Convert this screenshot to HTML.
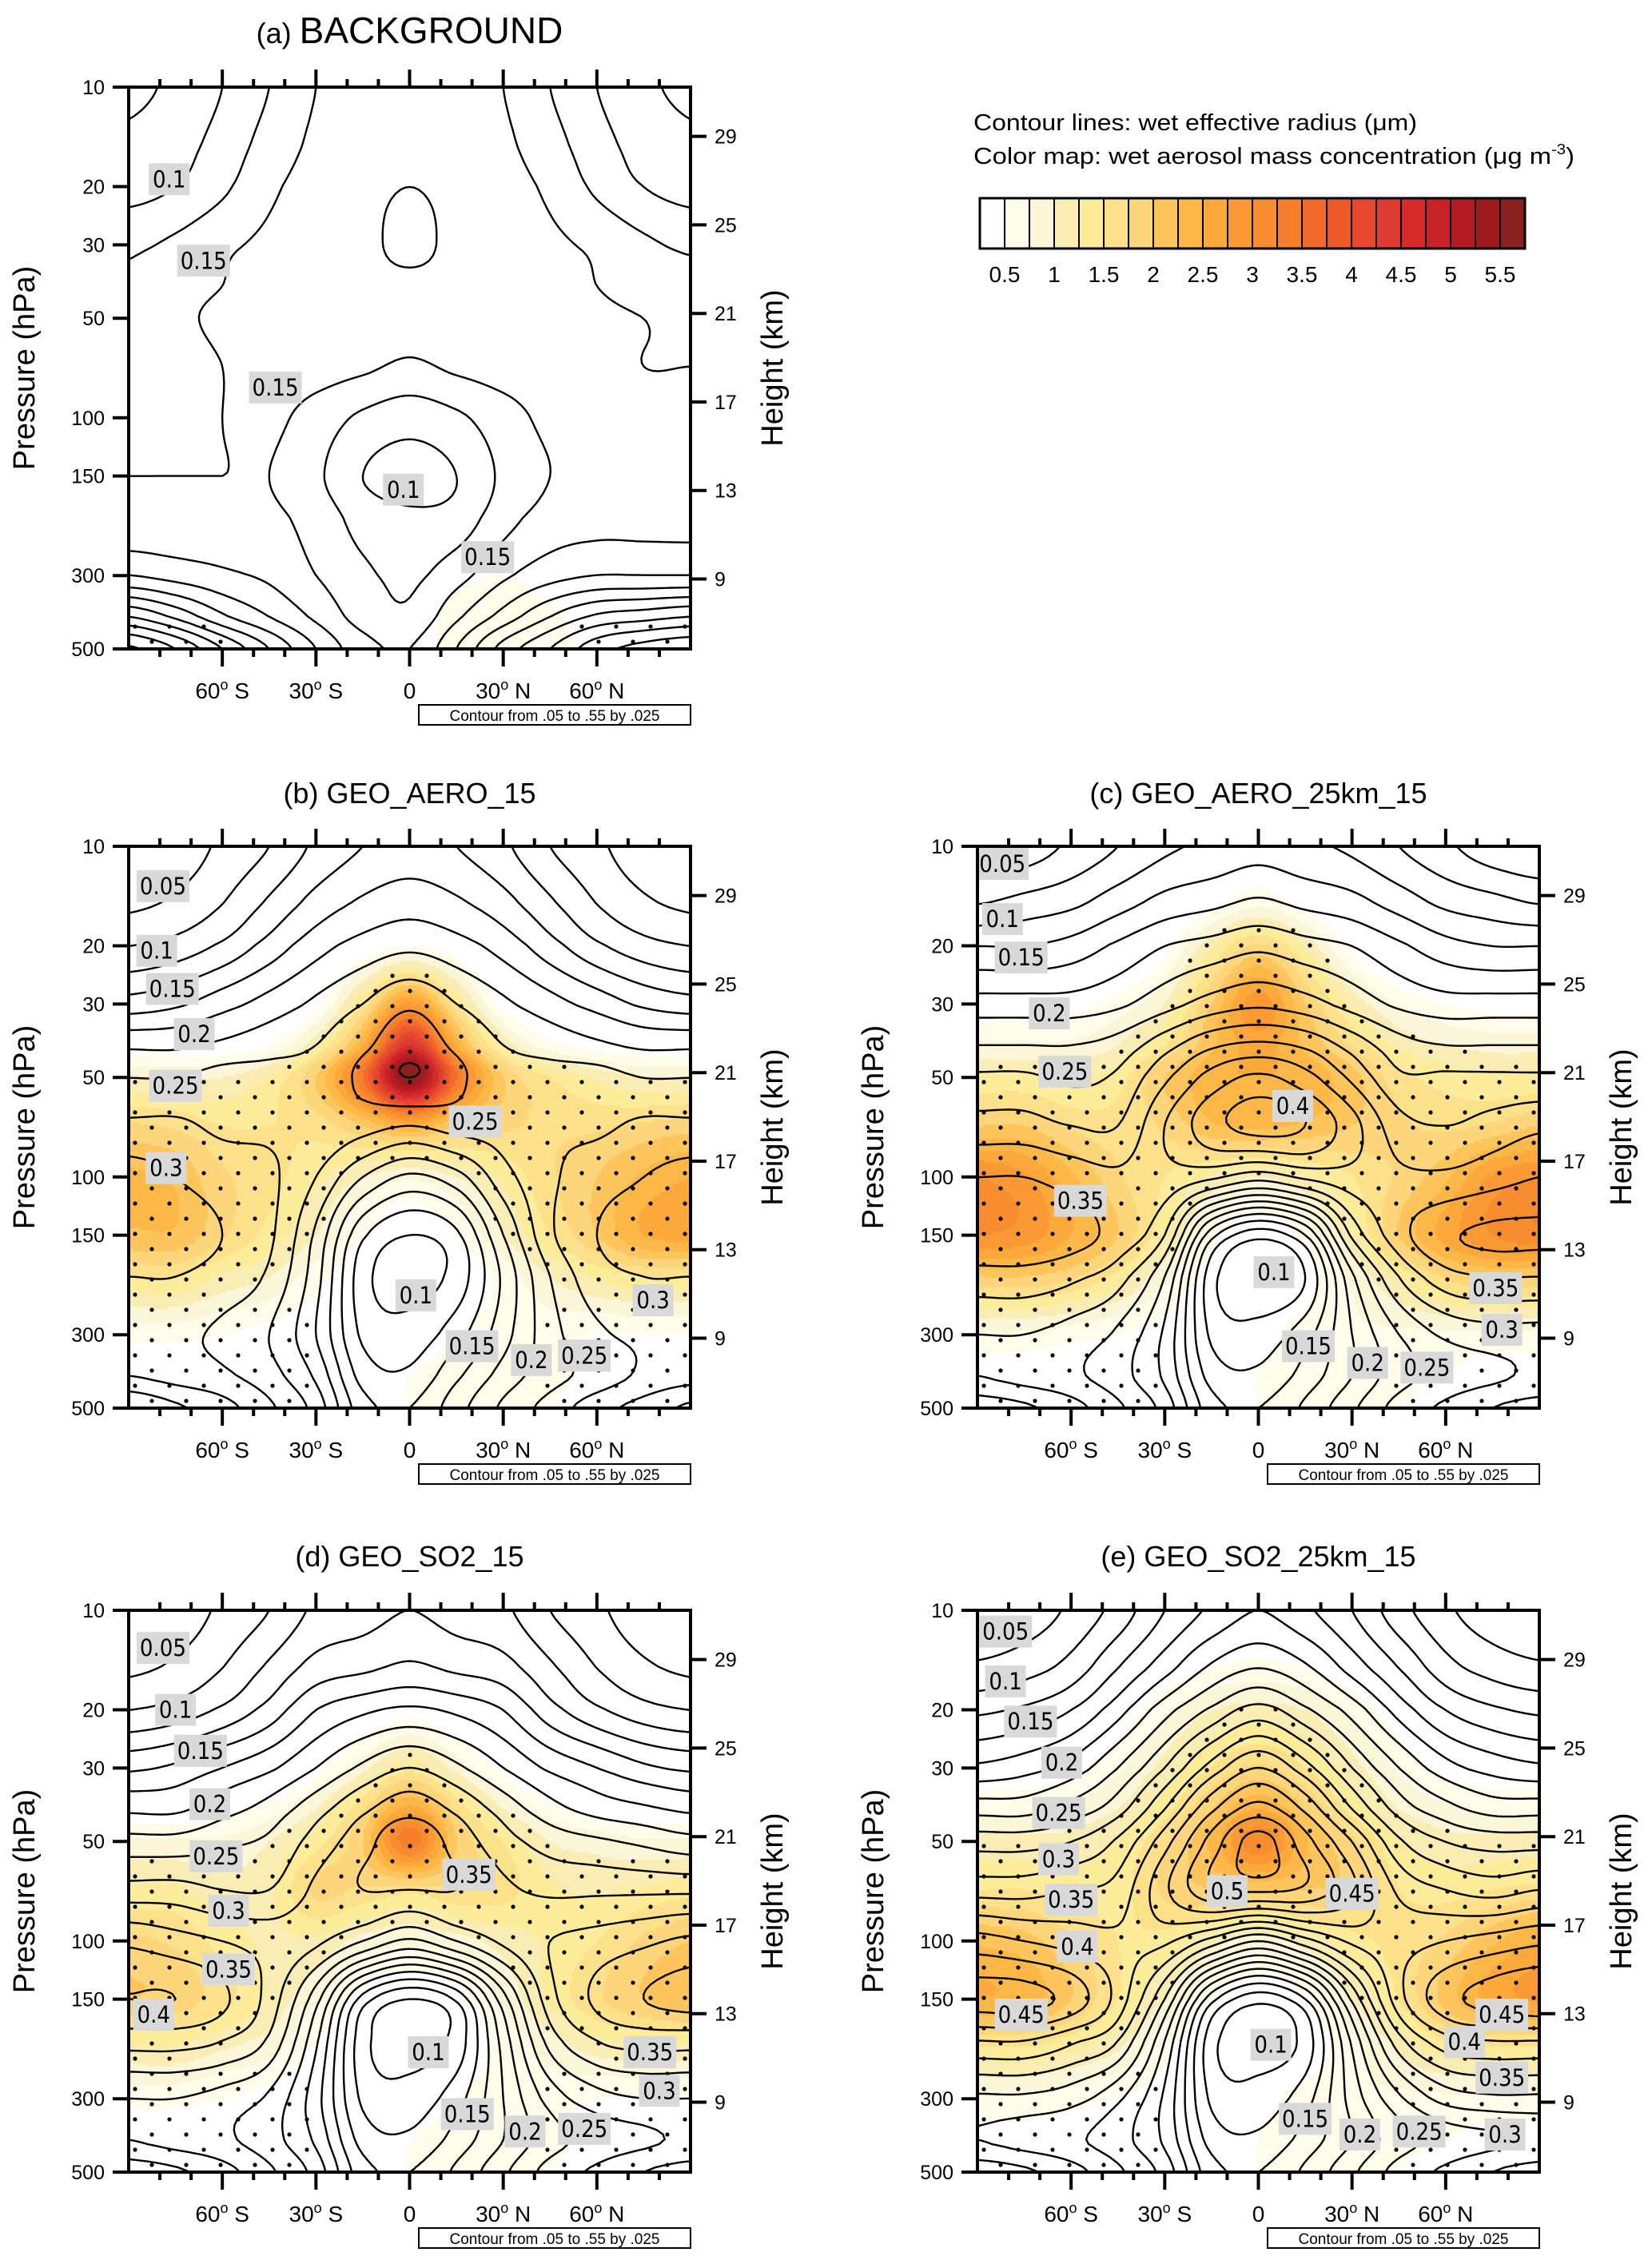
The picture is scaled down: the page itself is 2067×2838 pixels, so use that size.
<!DOCTYPE html>
<html><head><meta charset="utf-8">
<style>
html,body{margin:0;padding:0;background:#fff;}
#wrap{position:relative;width:2067px;height:2838px;overflow:hidden;}
#fill{position:absolute;left:0;top:0;}
#svg{position:absolute;left:0;top:0;}
text{font-family:"Liberation Sans",sans-serif;}
</style></head>
<body>
<div id="wrap">
<canvas id="fill" width="2067" height="2838"></canvas>
<svg id="svg" width="2067" height="2838" xmlns="http://www.w3.org/2000/svg">
<g>
<text x="1218" y="163" font-size="29" textLength="555" lengthAdjust="spacingAndGlyphs">Contour lines: wet effective radius  (μm)</text>
<text x="1218" y="205" font-size="29" textLength="752" lengthAdjust="spacingAndGlyphs">Color map: wet aerosol mass concentration (μg m<tspan dy="-12" font-size="18">-3</tspan><tspan dy="12">)</tspan></text>
</g>
<g id="cbar"></g>
<g id="panels"></g>
</svg>
</div>
<script>
// ===== data =====
const PLEV=[10,15,20,30,40,50,70,100,150,200,300,400,500];
const LATS=[-90,-75,-60,-45,-30,-15,0,15,30,45,60,75,90];
const CONTOUR_LEVELS=[0.05,0.075,0.1,0.125,0.15,0.175,0.2,0.225,0.25,0.275,0.3,0.325,0.35,0.375,0.4,0.425,0.45,0.475,0.5,0.525,0.55];
const COLOR_BOUNDS=[0.5,0.75,1,1.25,1.5,1.75,2,2.25,2.5,2.75,3,3.25,3.5,3.75,4,4.25,4.5,4.75,5,5.25,5.5];
const COLORS=["#ffffff","#fffcea","#fbf6d8","#f9edb4","#fdec9a","#fde08a","#fdd57a","#fdc55c","#fdb746","#fca83a","#fb9a35","#f88d30","#f57f2d","#f26b2a","#ec5a2b","#e6492e","#de3c32","#d52b2b","#c62228","#b31c22","#9f1a1e","#8a2222"];
const CBAR_LABELS=["0.5","1","1.5","2","2.5","3","3.5","4","4.5","5","5.5"];
const P_TICKS=[10,20,30,50,100,150,300,500];
const H_TICKS=[29,25,21,17,13,9];
const LAT_TICKS=[-60,-30,0,30,60];
const LAT_TICK_LABELS=["60|S","30|S","0","30|N","60|N"];

const radA=[
[.07,.08,.10,.125,.15,.16,.165,.16,.15,.125,.10,.08,.07],
[.08,.09,.11,.135,.155,.165,.17,.165,.155,.135,.11,.09,.08],
[.09,.10,.12,.145,.16,.17,.175,.17,.16,.145,.12,.10,.09],
[.12,.13,.145,.155,.165,.17,.18,.17,.165,.155,.145,.13,.12],
[.13,.14,.15,.16,.165,.17,.17,.17,.165,.16,.15,.14,.135],
[.14,.145,.155,.16,.165,.17,.165,.17,.165,.16,.155,.15,.145],
[.145,.14,.15,.16,.16,.155,.145,.155,.16,.16,.155,.15,.15],
[.145,.14,.15,.155,.14,.12,.11,.12,.14,.155,.155,.155,.155],
[.15,.15,.15,.15,.13,.10,.09,.10,.13,.15,.155,.155,.155],
[.155,.155,.155,.155,.14,.115,.105,.11,.14,.16,.165,.165,.165],
[.20,.19,.18,.17,.15,.13,.12,.14,.17,.19,.20,.20,.20],
[.30,.27,.23,.20,.17,.14,.13,.17,.21,.25,.28,.29,.30],
[.38,.35,.30,.25,.20,.16,.15,.20,.26,.30,.34,.36,.37]];
const massA=[
[0,0,0,0,0,0,0,0,0,0,0,0,0],[0,0,0,0,0,0,0,0,0,0,0,0,0],[0,0,0,0,0,0,0,0,0,0,0,0,0],
[0,0,0,0,0,0,0,0,0,0,0,0,0],[0,0,0,0,0,0,0,0,0,0,0,0,0],[0,0,0,0,0,0,0,0,0,0,0,0,0],
[0,0,0,0,0,0,0,0,0,0,0,0,0],[0,0,0,0,0,0,0,0,0,0,0,0,0],[0,0,0,0,0,0,0,0,0,0,0,0,0],
[0,0,0,0,0,0,0,0,0,0,0,0,0],[0,0,0,0,0,0,0.2,0.4,0.5,0.3,0,0,0],
[0,0,0,0,0,0,0.3,0.6,0.65,0.55,0.3,0,0],[0,0,0,0,0,0,0.3,0.6,0.7,0.6,0.4,0,0]];

const radB=[
[.05,.06,.08,.10,.13,.15,.16,.15,.13,.10,.08,.06,.05],
[.07,.08,.10,.13,.16,.18,.19,.18,.16,.13,.10,.08,.07],
[.10,.11,.13,.16,.19,.21,.22,.21,.19,.16,.13,.11,.10],
[.16,.17,.19,.21,.23,.25,.27,.25,.23,.21,.19,.17,.16],
[.22,.22,.23,.24,.25,.27,.29,.27,.25,.24,.23,.22,.22],
[.25,.25,.26,.26,.26,.28,.30,.28,.26,.26,.26,.25,.25],
[.28,.28,.27,.27,.27,.26,.25,.26,.26,.27,.27,.28,.28],
[.31,.30,.29,.28,.25,.20,.17,.19,.24,.27,.29,.30,.31],
[.31,.31,.30,.28,.22,.13,.10,.12,.20,.27,.30,.31,.32],
[.30,.30,.29,.27,.21,.11,.09,.11,.18,.25,.29,.30,.30],
[.28,.28,.27,.25,.20,.12,.11,.14,.19,.24,.27,.28,.28],
[.30,.29,.28,.26,.22,.14,.13,.17,.21,.24,.26,.28,.29],
[.35,.33,.31,.28,.24,.16,.15,.19,.23,.26,.29,.31,.33]];
const massB=[
[0,0,0,0,0,0,0,0,0,0,0,0,0],
[0,0,0,0,0,0,0.1,0,0,0,0,0,0],
[0,0,0,0,0,0.3,0.5,0.3,0,0,0,0,0],
[0,0,0,0,0.4,1.5,2.8,1.5,0.4,0,0,0,0],
[0.3,0.3,0.3,0.5,1.2,2.5,4.5,2.5,1.2,0.6,0.4,0.3,0.3],
[1,1,1,1.3,2,3.5,5.6,3.5,2,1.5,1.2,1,1],
[1.8,1.7,1.5,1.5,1.6,2,2.5,2,1.8,1.7,1.7,1.8,1.9],
[2.3,2.2,1.8,1.6,1.3,1,0.8,1,1.3,1.7,2,2.3,2.5],
[2.2,2.2,1.8,1.4,1,0.5,0.3,0.5,1,1.5,2,2.5,2.6],
[1.5,1.5,1.2,1,0.6,0.3,0.2,0.3,0.6,1,1.3,1.5,1.5],
[0.6,0.6,0.5,0.4,0.3,0.2,0.3,0.5,0.6,0.6,0.5,0.5,0.5],
[0.3,0.3,0.3,0.3,0.3,0.3,0.5,0.6,0.7,0.6,0.4,0.3,0.3],
[0.2,0.2,0.2,0.2,0.3,0.3,0.5,0.6,0.7,0.5,0.3,0.2,0.2]];

const radC=[
[.05,.06,.08,.10,.12,.13,.14,.13,.12,.10,.08,.06,.05],
[.10,.11,.12,.14,.16,.17,.18,.17,.16,.14,.12,.11,.10],
[.15,.15,.16,.18,.20,.21,.22,.21,.20,.18,.16,.15,.15],
[.21,.21,.21,.22,.24,.26,.27,.26,.24,.22,.21,.21,.21],
[.25,.25,.25,.26,.29,.32,.33,.32,.29,.26,.25,.25,.25],
[.28,.28,.27,.28,.32,.36,.38,.36,.32,.28,.28,.28,.28],
[.31,.31,.30,.30,.35,.39,.41,.40,.36,.31,.30,.31,.32],
[.35,.35,.34,.33,.34,.33,.31,.33,.34,.33,.33,.34,.35],
[.37,.37,.36,.34,.30,.16,.11,.15,.28,.34,.37,.38,.38],
[.34,.34,.33,.31,.25,.11,.08,.10,.22,.30,.34,.35,.35],
[.30,.30,.29,.27,.22,.12,.11,.14,.20,.25,.28,.29,.29],
[.30,.29,.28,.26,.22,.14,.13,.16,.20,.24,.26,.27,.28],
[.34,.33,.31,.28,.24,.16,.15,.18,.22,.26,.28,.30,.31]];
const massC=[
[0,0,0,0,0,0,0.2,0,0,0,0,0,0],
[0,0,0,0,0,0.4,0.7,0.4,0,0,0,0,0],
[0,0,0,0,0.4,1.2,1.8,1.2,0.4,0,0,0,0],
[0.3,0.3,0.4,0.6,1,2,2.9,2,1.2,0.7,0.5,0.4,0.4],
[0.8,0.8,0.8,1,1.5,2.2,2.6,2.2,1.7,1.2,1,0.9,0.9],
[1.3,1.3,1.2,1.4,2,2.4,2.5,2.4,2.1,1.6,1.4,1.3,1.3],
[2,2,1.7,1.6,1.8,2.2,2.3,2.2,2,1.8,1.7,1.8,2],
[3,2.8,2.3,1.8,1.5,1.2,1,1.2,1.5,1.8,2.2,2.8,3],
[3,2.9,2.5,2,1.3,0.6,0.3,0.6,1.2,2,2.6,3,3.2],
[2,2,1.8,1.4,0.8,0.4,0.3,0.4,0.8,1.3,1.8,2,2],
[0.7,0.7,0.6,0.5,0.4,0.3,0.4,0.6,0.7,0.7,0.7,0.7,0.7],
[0.4,0.4,0.4,0.4,0.3,0.3,0.5,0.6,0.6,0.6,0.5,0.4,0.4],
[0.2,0.2,0.2,0.2,0.3,0.3,0.5,0.6,0.6,0.5,0.3,0.2,0.2]];

const radD=[
[.05,.06,.08,.10,.13,.14,.15,.14,.13,.10,.08,.06,.05],
[.07,.08,.10,.13,.16,.17,.18,.17,.16,.13,.10,.08,.07],
[.10,.11,.13,.16,.20,.22,.23,.22,.20,.16,.13,.11,.10],
[.17,.18,.20,.22,.25,.28,.30,.28,.25,.22,.20,.18,.17],
[.22,.22,.24,.26,.29,.32,.34,.32,.29,.26,.24,.23,.22],
[.26,.26,.27,.28,.31,.34,.37,.34,.31,.29,.28,.27,.26],
[.31,.31,.30,.30,.33,.35,.35,.35,.33,.32,.32,.32,.32],
[.37,.36,.35,.34,.33,.30,.27,.30,.33,.35,.36,.37,.38],
[.40,.40,.38,.34,.26,.14,.10,.13,.24,.34,.38,.40,.41],
[.36,.36,.35,.32,.23,.11,.09,.11,.21,.31,.35,.36,.36],
[.30,.30,.29,.27,.21,.12,.11,.14,.20,.26,.29,.30,.30],
[.30,.29,.28,.26,.22,.14,.13,.16,.20,.24,.26,.27,.28],
[.34,.33,.31,.28,.24,.16,.15,.18,.22,.26,.28,.30,.31]];
const massD=[
[0,0,0,0,0,0,0,0,0,0,0,0,0],
[0,0,0,0,0,0,0.1,0,0,0,0,0,0],
[0,0,0,0,0,0.2,0.4,0.2,0,0,0,0,0],
[0,0,0,0,0.4,0.9,1.4,0.9,0.4,0,0,0,0],
[0.3,0.3,0.4,0.6,1,1.7,2.6,1.7,1,0.6,0.4,0.3,0.3],
[0.8,0.8,0.8,1,1.4,2,3.4,2,1.5,1,0.9,0.8,0.8],
[1.3,1.3,1.1,1.2,1.8,1.7,1.6,1.7,1.6,1.3,1.2,1.3,1.4],
[1.8,1.7,1.4,1.2,1.2,0.9,0.8,0.9,1.1,1.3,1.5,1.8,2],
[2,1.9,1.6,1.2,0.8,0.4,0.3,0.4,0.8,1.3,1.7,2,2.2],
[1.3,1.3,1.1,0.9,0.5,0.3,0.2,0.3,0.6,0.9,1.2,1.3,1.3],
[0.6,0.6,0.5,0.4,0.3,0.2,0.3,0.5,0.6,0.6,0.5,0.5,0.5],
[0.3,0.3,0.3,0.3,0.3,0.3,0.5,0.6,0.6,0.6,0.4,0.3,0.3],
[0.2,0.2,0.2,0.2,0.3,0.3,0.5,0.6,0.6,0.5,0.3,0.2,0.2]];

const radE=[
[.05,.06,.08,.11,.15,.18,.20,.18,.15,.11,.08,.06,.05],
[.08,.09,.11,.15,.19,.23,.25,.23,.19,.15,.11,.09,.08],
[.12,.13,.15,.19,.24,.28,.31,.28,.24,.19,.15,.13,.12],
[.18,.19,.21,.25,.30,.36,.40,.36,.30,.25,.21,.19,.18],
[.24,.24,.26,.29,.35,.42,.46,.42,.35,.29,.26,.24,.24],
[.29,.29,.30,.33,.39,.46,.51,.46,.40,.33,.30,.29,.29],
[.34,.34,.35,.36,.42,.47,.48,.47,.43,.37,.35,.34,.35],
[.41,.40,.39,.38,.38,.34,.30,.34,.38,.39,.40,.41,.42],
[.46,.46,.44,.39,.30,.16,.11,.15,.28,.39,.44,.46,.47],
[.40,.40,.38,.35,.25,.11,.09,.11,.23,.34,.39,.40,.40],
[.32,.32,.31,.28,.22,.12,.11,.14,.21,.27,.31,.32,.32],
[.30,.29,.28,.26,.22,.14,.13,.16,.20,.24,.26,.27,.28],
[.34,.33,.31,.28,.24,.16,.15,.18,.22,.26,.28,.30,.31]];
const massE=[
[0,0,0,0,0,0,0.1,0,0,0,0,0,0],
[0,0,0,0,0.3,0.5,0.6,0.5,0.3,0,0,0,0],
[0,0,0,0.3,0.7,1,1.1,1,0.7,0.3,0,0,0],
[0.3,0.3,0.4,0.7,1.1,1.5,1.8,1.5,1.1,0.7,0.4,0.3,0.3],
[0.7,0.7,0.8,1,1.4,2,2.5,2,1.4,1,0.8,0.7,0.7],
[1.1,1.1,1.1,1.3,1.7,2.3,3.2,2.3,1.8,1.3,1.1,1.1,1.1],
[1.5,1.5,1.4,1.4,1.8,2,2,2,1.9,1.5,1.4,1.5,1.6],
[2.2,2.1,1.8,1.5,1.4,1.1,0.9,1.1,1.4,1.6,1.8,2.2,2.5],
[2.5,2.4,2,1.5,1,0.5,0.3,0.5,1,1.5,2.1,2.6,2.8],
[1.6,1.6,1.4,1.1,0.6,0.3,0.2,0.3,0.7,1.1,1.5,1.6,1.6],
[0.7,0.7,0.6,0.5,0.4,0.3,0.4,0.6,0.7,0.7,0.7,0.7,0.7],
[0.4,0.4,0.4,0.4,0.3,0.3,0.5,0.6,0.6,0.6,0.5,0.4,0.4],
[0.2,0.2,0.2,0.2,0.3,0.3,0.5,0.6,0.6,0.5,0.3,0.2,0.2]];

// contour labels: [text, lat, pressure]
const labA=[["0.1",-77,19],["0.15",-66,33.5],["0.15",-43,81],["0.1",-2,165],["0.15",25,264]];
const labB=[["0.05",-79,13.2],["0.1",-81,20.7],["0.15",-76,27],["0.2",-69,37],["0.25",-75,53],["0.3",-78,94],["0.25",21,68],["0.1",2,228],["0.15",20,325],["0.2",39,358],["0.25",56,347],["0.3",78,236]];
const labC=[["0.05",-82,11.3],["0.1",-82,16.6],["0.15",-76,21.7],["0.2",-67,32],["0.25",-62,48],["0.4",11,61],["0.35",-57,118],["0.1",5,194],["0.35",76,217],["0.3",78,290],["0.15",16,325],["0.2",35,365],["0.25",54,377]];
const labD=[["0.05",-79,13],["0.1",-75,20],["0.15",-67,26.6],["0.2",-64,38.6],["0.25",-62,55.5],["0.3",-58,81],["0.35",-58,122],["0.4",-82,167],["0.35",19,63],["0.1",6,217],["0.35",77,217],["0.3",80,284],["0.15",18.5,334],["0.2",37,377],["0.25",56,370]];
const labE=[["0.05",-81,11.6],["0.1",-81,16.4],["0.15",-73,21.7],["0.2",-63,28.9],["0.25",-64,41],["0.3",-64,56.6],["0.35",-60,75],["0.4",-58,104],["0.45",-76,167],["0.5",-10,70.7],["0.45",30,72],["0.45",78,167],["0.4",66,202],["0.1",4,206],["0.35",78,259],["0.15",15,345],["0.2",32.5,385],["0.25",51.5,377],["0.3",79,385]];

// ===== layout =====
const W=703,H=703;
const panels=[
 {id:"a",title:"BACKGROUND",x:161,y:109,rad:radA,mass:massA,lab:labA,ty:38,big:true,dotP:420},
 {id:"b",title:"GEO_AERO_15",x:161,y:1059,rad:radB,mass:massB,lab:labB,ty:991,dotP:250},
 {id:"c",title:"GEO_AERO_25km_15",x:1223,y:1059,rad:radC,mass:massC,lab:labC,ty:991,dotP:250},
 {id:"d",title:"GEO_SO2_15",x:161,y:2015,rad:radD,mass:massD,lab:labD,ty:1946,dotP:250},
 {id:"e",title:"GEO_SO2_25km_15",x:1223,y:2015,rad:radE,mass:massE,lab:labE,ty:1946,dotP:250}
];
const NS="http://www.w3.org/2000/svg";
function mk(tag,attrs,parent){const e=document.createElementNS(NS,tag);for(const k in attrs)e.setAttribute(k,attrs[k]);if(parent)parent.appendChild(e);return e;}
const LP=PLEV.map(p=>Math.log10(p));
function rowIdx(p){const l=Math.log10(p);if(l<=LP[0])return 0;for(let i=0;i<LP.length-1;i++){if(l<=LP[i+1])return i+(l-LP[i])/(LP[i+1]-LP[i]);}return LP.length-1;}
function cr(a,b,c,d,t){return 0.5*((2*b)+(-a+c)*t+(2*a-5*b+4*c-d)*t*t+(-a+3*b-3*c+d)*t*t*t);}
function sample(G,lat,p){
 const fc=Math.max(0,Math.min(12,(lat+90)/15)), fr=rowIdx(p);
 const c=Math.min(11,Math.floor(fc)), r=Math.min(11,Math.floor(fr));
 const tc=fc-c, tr=fr-r;
 const g=(i,j)=>G[Math.max(0,Math.min(12,i))][Math.max(0,Math.min(12,j))];
 const rows=[];
 for(let k=-1;k<=2;k++){rows.push(cr(g(r+k,c-1),g(r+k,c),g(r+k,c+1),g(r+k,c+2),tc));}
 return cr(rows[0],rows[1],rows[2],rows[3],tr);
}
function pyF(P,p){return P.y+H*Math.log10(p/10)/Math.log10(50);}
function pxF(P,lat){return P.x+W*(lat+90)/180;}
function colorFor(v){let i=0;while(i<COLOR_BOUNDS.length&&v>=COLOR_BOUNDS[i])i++;return COLORS[i];}

const ctx=document.getElementById('fill').getContext('2d');
const root=document.getElementById('panels');

panels.forEach(P=>{
 const g=mk('g',{},root);
 
 
 // fill
 const step=3;
 for(let Y=0;Y<H;Y+=step){
  const p=10*Math.pow(50,(Y+step/2)/H);
  for(let X=0;X<W;X+=step){
   const lat=(X+step/2)/W*180-90;
   const v=sample(P.mass,lat,p);
   const col=colorFor(v);
   if(col!=="#ffffff"){ctx.fillStyle=col;ctx.fillRect(P.x+X,P.y+Y,step,step);}
  }
 }
 // stipple dots
 const dots=mk('g',{fill:'#000'},g);
 
 
 let row=0;
 for(let Y=10;Y<H-4;Y+=19,row++){
  const p=10*Math.pow(50,Y/H);
  for(let X=(row%2?8:29);X<W-4;X+=43){
   const lat=X/W*180-90;
   const m=sample(P.mass,lat,p);
   let on=false;
   if(P.id==="a"){on=p>=P.dotP&&(lat<-55||lat>50);}
   else{on=m>=1.0||(p>=P.dotP&&(lat<-30||lat>40));}
   if(on){const d=mk('circle',{cx:P.x+X,cy:P.y+Y,r:2.6},dots);}
  }
 }
 // contour grid
 const NX=120,NY=120;
 const vals=[];
 for(let j=0;j<=NY;j++){const p=10*Math.pow(50,j/NY);const rowv=[];for(let i=0;i<=NX;i++){rowv.push(sample(P.rad,-90+180*i/NX,p));}vals.push(rowv);}
 const cg=mk('g',{fill:'none',stroke:'#000','stroke-width':2.4,'stroke-linejoin':'round','stroke-linecap':'round'},g);
 
 
 const dx=W/NX,dy=H/NY;
 CONTOUR_LEVELS.forEach(L=>{
  let d="";
  for(let j=0;j<NY;j++)for(let i=0;i<NX;i++){
   const a=vals[j][i],b=vals[j][i+1],c=vals[j+1][i+1],e=vals[j+1][i];
   const pts=[];
   const x0=P.x+i*dx,y0=P.y+j*dy;
   if((a<L)!==(b<L))pts.push([x0+dx*(L-a)/(b-a),y0]);
   if((b<L)!==(c<L))pts.push([x0+dx,y0+dy*(L-b)/(c-b)]);
   if((e<L)!==(c<L))pts.push([x0+dx*(L-e)/(c-e),y0+dy]);
   if((a<L)!==(e<L))pts.push([x0,y0+dy*(L-a)/(e-a)]);
   if(pts.length>=2){d+="M"+pts[0][0].toFixed(1)+" "+pts[0][1].toFixed(1)+"L"+pts[1][0].toFixed(1)+" "+pts[1][1].toFixed(1);}
   if(pts.length===4){d+="M"+pts[2][0].toFixed(1)+" "+pts[2][1].toFixed(1)+"L"+pts[3][0].toFixed(1)+" "+pts[3][1].toFixed(1);}
  }
  if(d){const pa=mk('path',{d:d},cg);}
 });
 // contour labels
 P.lab.forEach(l=>{
  const cx=pxF(P,l[1]),cy=pyF(P,l[2]);
  const w=l[0].length*15+6;
  const lg=mk('g',{},g);
  
  
  mk('rect',{x:cx-w/2,y:cy-20,width:w,height:40,fill:'#d9d9d9'},lg);
  const t=mk('text',{x:cx,y:cy+10,'font-size':29,'text-anchor':'middle',fill:'#000',style:'font-family:"DejaVu Sans Condensed","Liberation Sans Narrow","Liberation Sans",sans-serif'},lg);
  t.textContent=l[0];
 });
 // frame
 const fr=mk('rect',{x:P.x,y:P.y,width:W,height:H,fill:'none',stroke:'#000','stroke-width':4},g);
 
 
 // lat ticks
 const tk=mk('g',{stroke:'#000','stroke-width':4},g);
 
 
 for(let lat=-80;lat<=80;lat+=10){
  const x=pxF(P,lat);const major=(lat%30===0);const len=major?22:10;
  mk('line',{x1:x,y1:P.y,x2:x,y2:P.y-len},tk);
  mk('line',{x1:x,y1:P.y+H,x2:x,y2:P.y+H+len},tk);
 }
 P_TICKS.forEach(p=>{const y=pyF(P,p);mk('line',{x1:P.x-20,y1:y,x2:P.x,y2:y},tk);
  const t=mk('text',{x:P.x-30,y:y+9,'font-size':25,'text-anchor':'end',stroke:'none'},g);
  t.textContent=p;});
 H_TICKS.forEach(h=>{const p=1000*Math.exp(-(h-1.34)/6.49);const y=pyF(P,p);
  mk('line',{x1:P.x+W,y1:y,x2:P.x+W+20,y2:y},tk);
  const t=mk('text',{x:P.x+W+30,y:y+9,'font-size':25,stroke:'none'},g);
  t.textContent=h;});
 LAT_TICKS.forEach((lat,i)=>{
  const x=pxF(P,lat);const s=LAT_TICK_LABELS[i].split('|');
  const t=mk('text',{x:x,y:P.y+H+62,'font-size':28,'text-anchor':'middle'},g);
  
  if(s.length===1){t.textContent=s[0];}
  else{t.appendChild(document.createTextNode(s[0]));const o=mk('tspan',{dy:-11,'font-size':18},t);o.textContent='o';const q=mk('tspan',{dy:11},t);q.textContent='\u00a0'+s[1];}
 });
 // axis titles
 const yt=mk('text',{x:0,y:0,'font-size':38,'text-anchor':'middle',transform:`translate(${P.x-118},${P.y+H/2}) rotate(-90)`},g);
 yt.textContent='Pressure (hPa)';
 const ht=mk('text',{x:0,y:0,'font-size':38,'text-anchor':'middle',transform:`translate(${P.x+W+115},${P.y+H/2}) rotate(-90)`},g);
 ht.textContent='Height (km)';
 // title
 const tt=mk('text',{x:P.x+W/2,y:P.ty+14,'font-size':36,'text-anchor':'middle'},g);
 
 if(P.big){const a=mk('tspan',{'font-size':36},tt);a.textContent='(a)\u00a0';const b=mk('tspan',{'font-size':46},tt);b.textContent=P.title;tt.setAttribute('y',P.ty+16);}
 else{tt.textContent='('+P.id+') '+P.title;}
 // contour info box
 const ib=mk('g',{},g);
 
 mk('rect',{x:P.x+W-340,y:P.y+H+70,width:340,height:25,fill:'#fff',stroke:'#000','stroke-width':2},ib);
 const it=mk('text',{x:P.x+W-170,y:P.y+H+90,'font-size':19,'text-anchor':'middle'},ib);
 it.textContent='Contour from .05 to .55 by .025';
});

// colorbar
const cb=document.getElementById('cbar');
const CBX=1226,CBY=248,CBW=31,CBH=63;
COLORS.forEach((c,i)=>{const r=mk('rect',{x:CBX+i*CBW,y:CBY,width:CBW,height:CBH,fill:c,stroke:'#000','stroke-width':2},cb);
 });
mk('rect',{x:CBX,y:CBY,width:CBW*COLORS.length,height:CBH,fill:'none',stroke:'#000','stroke-width':3},cb);
CBAR_LABELS.forEach((s,k)=>{const t=mk('text',{x:CBX+CBW*(1+2*k),y:353,'font-size':28,'text-anchor':'middle'},cb);
 t.textContent=s;});
</script>
</body></html>
